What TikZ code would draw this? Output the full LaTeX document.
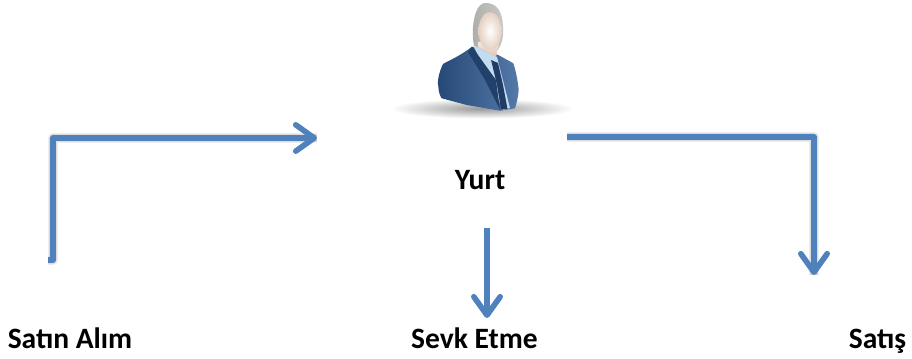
\documentclass[tikz,border=0pt]{standalone}
\usepackage{fontspec}
\setmainfont{Carlito}
\usetikzlibrary{arrows.meta}
\definecolor{flowblue}{RGB}{79,129,189}
\definecolor{suitdark}{RGB}{38,72,118}
\definecolor{suitlight}{RGB}{84,122,170}
\definecolor{shirtblue}{RGB}{196,220,240}
\definecolor{hairgray}{RGB}{165,165,160}
\definecolor{skintone}{RGB}{222,196,178}
\tikzset{
  label text/.style={font=\bfseries\fontsize{16.8}{20}\selectfont, anchor=base, inner sep=0pt, text=black},
  flow/.style={draw=flowblue, line width=2.9pt, line join=round, -{Straight Barb[length=10.5pt, width=15pt, round, line width=3.2pt]}},
  flow shadow/.style={draw=black, opacity=0.07, line join=round}
}
\begin{document}
\begin{tikzpicture}[scale=0.2]
\useasboundingbox (0,0) rectangle (91.2,-35.9);
% person
\shade [inner color=black!40, outer color=white] (48.2,-10.85) ellipse (9.2 and 1);
\shade [left color=hairgray!90, right color=hairgray!60] (48.7,-0.3) .. controls (47.9,-0.2) and (47.4,-1.2) .. (47.3,-2.8) .. controls (47.2,-4) and (47.4,-5) .. (47.9,-5.6) -- (49.8,-5) .. controls (50.2,-4.4) and (50.4,-3.6) .. (50.3,-2.6) .. controls (50.2,-1.2) and (49.8,-0.4) .. (48.7,-0.3) -- cycle;
\shade [left color=suitdark, right color=suitlight] (47.2,-4.67) .. controls (46,-5.6) and (45,-6) .. (44.3,-6.4) .. controls (43.9,-7.2) and (43.7,-8.2) .. (43.83,-8.6) .. controls (43.85,-9.2) and (44,-9.6) .. (44.17,-9.83) -- (46.67,-10.5) -- (50,-11.07) -- (51.5,-10.83) .. controls (51.9,-9.5) and (51.9,-8.8) .. (51.83,-8.67) .. controls (51.7,-7.6) and (51.5,-6.8) .. (51.33,-6.33) -- (49.83,-5.5) -- cycle;
\fill [shirtblue] (47.3,-4.5) -- (49.7,-5.7) -- (51,-10.8) -- (50.3,-11) -- (49,-8) -- cycle;
\fill [suitdark!85!black] (49.1,-6) -- (49.8,-6.3) -- (50.3,-8.5) -- (50.75,-10.9) -- (50.1,-10.95) -- (49.7,-8.5) -- (49.3,-6.8) -- cycle;
\fill [suitdark!90!black] (47.2,-4.67) -- (46.8,-5.2) -- (48.5,-8) -- (50,-11) -- (49.6,-8) -- cycle;
\shade [top color=white!60!skintone, bottom color=skintone] (47.8,-4.2) -- (49.9,-4.2) -- (49.6,-5.7) -- (47.8,-4.7) -- cycle;
\shade [inner color=white, outer color=skintone!80] (49,-3.1) ellipse (1.15 and 1.9);
% labels
\node [label text] (yurt) at (48,-18.95) {Yurt};
\node [label text] (satinalim) at (7,-34.9) {Satın Alım};
\node [label text] (sevketme) at (47.45,-34.9) {Sevk Etme};
\node [label text] (satis) at (87.75,-34.9) {Satış};
% connector ends
\coordinate (buystub) at (4.8,-26);
\coordinate (buystart) at (5.3,-26);
\coordinate (buycorner) at (5.3,-13.8);
\coordinate (buytip) at (31.7,-13.8);
\coordinate (shipstart) at (48.7,-22.8);
\coordinate (shiptip) at (48.7,-31.8);
\coordinate (sellstart) at (56.7,-13.7);
\coordinate (sellcorner) at (81.4,-13.7);
\coordinate (selltip) at (81.4,-27.5);
% shadows
\foreach \w in {5.5pt,4.5pt,3.5pt} {
  \draw [flow shadow, line width=\w, yshift=-0.45cm*0.2] (buystub) -- (buystart) -- (buycorner) -- (buytip);
  \draw [flow shadow, line width=\w, yshift=-0.45cm*0.2] (sellstart) -- (sellcorner) -- (selltip);
}
% connectors
\draw [flow] (buystub) -- (buystart) -- (buycorner) -- (buytip);
\draw [flow] (shipstart) -- (shiptip);
\draw [flow] (sellstart) -- (sellcorner) -- (selltip);
\end{tikzpicture}
\end{document}
